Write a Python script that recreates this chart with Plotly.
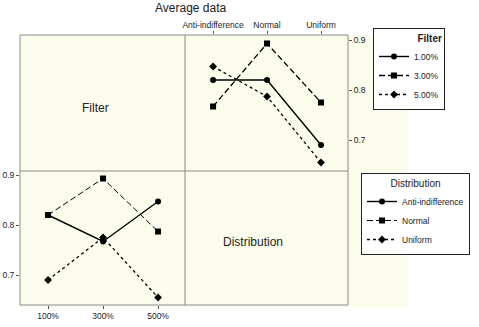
import plotly.graph_objects as go

W, H = 479, 327

distributions = ["Anti-indifference", "Normal", "Uniform"]
filters = ["1.00%", "3.00%", "5.00%"]
filter_ticks = ["100%", "300%", "500%"]

# mean values for each filter level across distributions
f1 = [0.820, 0.820, 0.690]
f3 = [0.767, 0.893, 0.775]
f5 = [0.847, 0.787, 0.655]

# mean values for each distribution across filter levels
d_anti = [0.820, 0.767, 0.847]
d_normal = [0.820, 0.893, 0.787]
d_uniform = [0.690, 0.775, 0.655]

def px(x):
    return x / W

def py(y):
    return 1 - y / H

FONT = "Liberation Sans, Arial, sans-serif"
fig = go.Figure()

# top-right panel: filter lines across distributions
filter_series = [f1, f3, f5]
filter_style = [("solid", "circle", 1.4), ("6px,3px", "square", 1.3), ("3px,3px", "diamond", 1.3)]
for name, vals, (dash, sym, lw) in zip(filters, filter_series, filter_style):
    fig.add_trace(go.Scatter(
        x=distributions, y=vals, name=name, mode="lines+markers",
        line=dict(color="black", width=lw, dash=dash),
        marker=dict(symbol=sym, size=6, color="black"),
        xaxis="x2", yaxis="y2", legend="legend",
    ))

# bottom-left panel: distribution lines across filter levels
dist_series = [d_anti, d_normal, d_uniform]
dist_style = [("solid", "circle", 1.4), ("6px,3px", "square", 1.0), ("3px,3px", "diamond", 1.3)]
for name, vals, (dash, sym, lw) in zip(distributions, dist_series, dist_style):
    fig.add_trace(go.Scatter(
        x=filter_ticks, y=vals, name=name, mode="lines+markers",
        line=dict(color="black", width=lw, dash=dash),
        marker=dict(symbol=sym, size=6, color="black"),
        xaxis="x", yaxis="y", legend="legend2",
    ))

tickfont = dict(family=FONT, size=8.5, color="#222")

fig.update_layout(
    width=W, height=H,
    margin=dict(l=0, r=0, t=0, b=0, autoexpand=False),
    paper_bgcolor="white",
    plot_bgcolor="rgba(0,0,0,0)",
    font=dict(family=FONT, color="#222"),
    xaxis=dict(domain=[px(20), px(185)], range=[-0.51, 2.49], type="category",
               showgrid=False, zeroline=False, ticks="outside", ticklen=3,
               tickcolor="#555", tickfont=tickfont, showline=False),
    yaxis=dict(domain=[py(305), py(171)], range=[0.64, 0.908],
               tickvals=[0.7, 0.8, 0.9], showgrid=False, zeroline=False,
               ticks="outside", ticklen=3, tickcolor="#555", tickfont=tickfont),
    xaxis2=dict(domain=[px(185), px(348)], range=[-0.52, 2.5], type="category",
                side="top", anchor="y2", showgrid=False, zeroline=False,
                ticks="outside", ticklen=3, tickcolor="#555", tickfont=tickfont),
    yaxis2=dict(domain=[py(171), py(35)], range=[0.638, 0.91], side="right",
                anchor="x2", tickvals=[0.7, 0.8, 0.9], showgrid=False,
                zeroline=False, ticks="outside", ticklen=3, tickcolor="#555",
                tickfont=tickfont),
    legend=dict(x=px(373), y=py(28), xanchor="left", yanchor="top",
                bgcolor="white", bordercolor="#222", borderwidth=1,
                font=dict(family=FONT, size=8.5), tracegroupgap=0,
                title=dict(text="<b>Filter</b>", side="top right",
                           font=dict(family=FONT, size=10)),
                itemwidth=30),
    legend2=dict(x=px(361), y=py(173), xanchor="left", yanchor="top",
                 bgcolor="white", bordercolor="#222", borderwidth=1,
                 font=dict(family=FONT, size=8.5), tracegroupgap=0,
                 title=dict(text="Distribution", side="top center",
                            font=dict(family=FONT, size=10)),
                 itemwidth=30),
    showlegend=True,
)

shapes = [
    # cream background
    dict(type="rect", xref="paper", yref="paper", x0=px(20), x1=px(408),
         y0=py(307), y1=py(35), fillcolor="#fcfcec", line=dict(width=0), layer="below"),
    # panel outline
    dict(type="rect", xref="paper", yref="paper", x0=px(20), x1=px(348),
         y0=py(305), y1=py(35), line=dict(color="#8a8a8a", width=1), layer="below"),
    dict(type="line", xref="paper", yref="paper", x0=px(185), x1=px(185),
         y0=py(305), y1=py(35), line=dict(color="#8a8a8a", width=1), layer="below"),
    dict(type="line", xref="paper", yref="paper", x0=px(20), x1=px(348),
         y0=py(171), y1=py(171), line=dict(color="#8a8a8a", width=1), layer="below"),
]
fig.update_layout(shapes=shapes)

annotations = [
    dict(text="Average data", x=px(190), y=py(8), xref="paper", yref="paper",
         xanchor="center", yanchor="middle",
         showarrow=False, font=dict(family=FONT, size=12, color="#222")),
    dict(text="Filter", x=px(95), y=py(108), xref="paper", yref="paper",
         xanchor="center", yanchor="middle",
         showarrow=False, font=dict(family=FONT, size=12, color="#222")),
    dict(text="Distribution", x=px(253), y=py(242), xref="paper", yref="paper",
         xanchor="center", yanchor="middle",
         showarrow=False, font=dict(family=FONT, size=12, color="#222")),
]
fig.update_layout(annotations=annotations)

fig.write_html("out.html", config={"displayModeBar": False},
               post_script="document.body.style.margin='0';document.body.style.overflow='hidden';")
